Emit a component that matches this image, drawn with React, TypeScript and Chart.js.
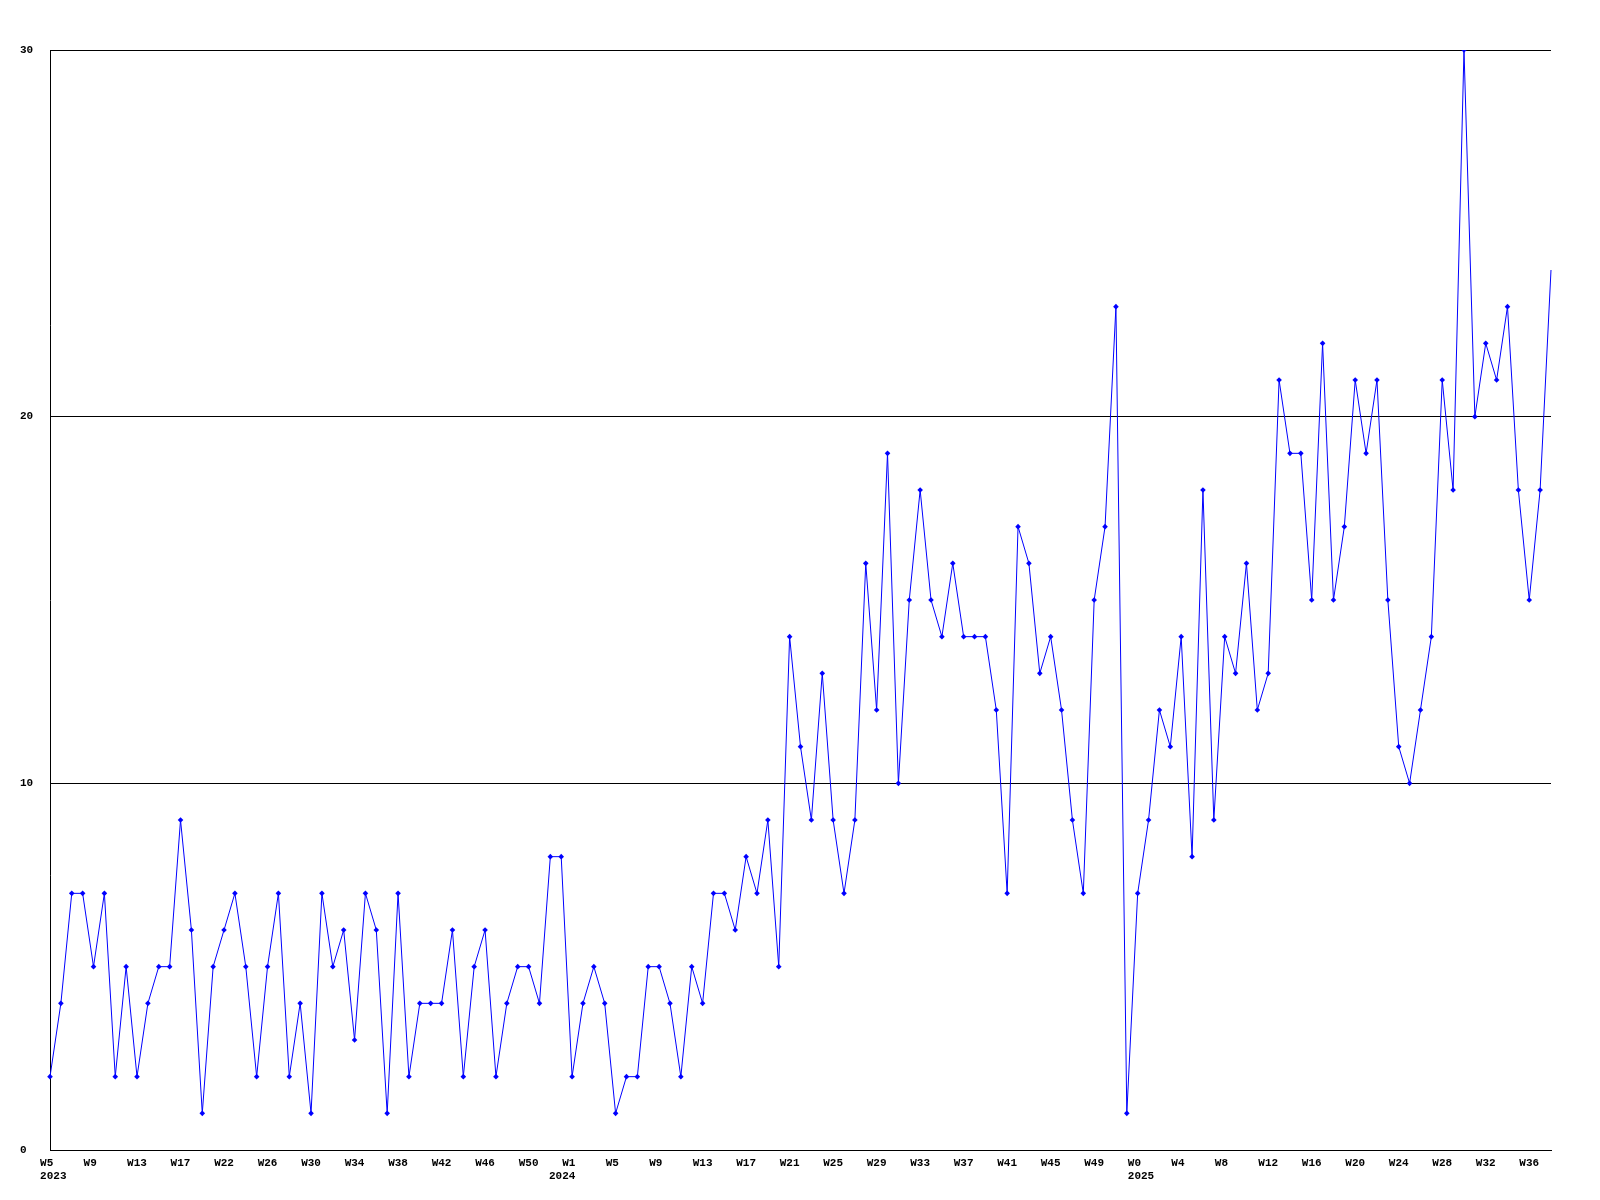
import React, { useEffect, useRef } from "react";
import { Chart, registerables } from "chart.js";

Chart.register(...registerables);

// Week numbers shown on the category axis (one per data point)
const weeks2023 = [
  5, 6, 7, 8, 9, 10, 11, 12, 13, 14, 15, 16, 17, 19, 20, 21, 22, 23, 24, 25, 26, 27, 28, 29,
  30, 31, 32, 33, 34, 35, 36, 37, 38, 39, 40, 41, 42, 43, 44, 45, 46, 47, 48, 49, 50, 51, 52, 53,
];
const weeks2024 = [
  1, 2, 3, 4, 5, 6, 7, 8, 9, 10, 11, 12, 13, 14, 15, 16, 17, 18, 19, 20, 21, 22, 23, 24, 25, 26,
  27, 28, 29, 30, 31, 32, 33, 34, 35, 36, 37, 38, 39, 40, 41, 42, 43, 44, 45, 46, 47, 48, 49, 50, 51, 52,
];
const weeks2025 = [
  0, 1, 2, 3, 4, 5, 6, 7, 8, 9, 10, 11, 12, 13, 14, 15, 16, 17, 18, 19, 20, 21, 22, 23, 24, 25,
  26, 27, 28, 29, 30, 31, 32, 33, 34, 35, 36, 37, 38,
];
const years = ["2023", "2024", "2025"];

// Weekly values
const values2023 = [
  2, 4, 7, 7, 5, 7, 2, 5, 2, 4, 5, 5, 9, 6, 1, 5, 6, 7, 5, 2, 5, 7, 2, 4,
  1, 7, 5, 6, 3, 7, 6, 1, 7, 2, 4, 4, 4, 6, 2, 5, 6, 2, 4, 5, 5, 4, 8, 8,
];
const values2024 = [
  2, 4, 5, 4, 1, 2, 2, 5, 5, 4, 2, 5, 4, 7, 7, 6, 8, 7, 9, 5, 14, 11, 9, 13, 9, 7,
  9, 16, 12, 19, 10, 15, 18, 15, 14, 16, 14, 14, 14, 12, 7, 17, 16, 13, 14, 12, 9, 7, 15, 17, 23, 1,
];
const values2025 = [
  7, 9, 12, 11, 14, 8, 18, 9, 14, 13, 16, 12, 13, 21, 19, 19, 15, 22, 15, 17, 21, 19, 21, 15, 11, 10,
  12, 14, 21, 18, 30, 20, 22, 21, 23, 18, 15, 18, 24,
];

const yTicks = [0, 10, 20, 30];

const FONT = {
  family: "'Liberation Mono', 'DejaVu Sans Mono', monospace",
  size: 11,
  weight: "bold" as const,
  lineHeight: "13px",
};

function padEnd(s: string, n: number) {
  let r = s;
  while (r.length < n) r += " ";
  return r;
}

export default function App() {
  const ref = useRef<HTMLCanvasElement | null>(null);

  useEffect(() => {
    document.body.style.margin = "0";
    const weekGroups = [weeks2023, weeks2024, weeks2025];
    const labels: string[] = [];
    const tickText: (string | string[])[] = [];
    weekGroups.forEach((g, gi) => {
      g.forEach((w, wi) => {
        const idx = labels.length;
        const name = "W" + w;
        labels.push(name);
        if (idx % 4 === 0) {
          const wk = padEnd(name, 3);
          if (wi === 0) {
            const yr = gi === 1 ? padEnd(years[gi], 7) : " " + years[gi];
            tickText.push([wk, yr]);
          } else {
            tickText.push(wk);
          }
        } else {
          tickText.push("");
        }
      });
    });
    const data = [...values2023, ...values2024, ...values2025];
    const radii = data.map((_, i) => (i === data.length - 1 ? 0 : 2.8));

    const chart = new Chart(ref.current as HTMLCanvasElement, {
      type: "line",
      data: {
        labels,
        datasets: [
          {
            data,
            borderColor: "#0000ff",
            backgroundColor: "#0000ff",
            borderWidth: 1,
            tension: 0,
            fill: false,
            pointStyle: "rectRot",
            pointRadius: radii,
            pointBorderWidth: 0,
            pointBackgroundColor: "#0000ff",
          },
        ],
      },
      options: {
        responsive: false,
        animation: false,
        events: [],
        layout: { padding: { left: 20, right: 49, top: 50, bottom: 0 } },
        plugins: { legend: { display: false }, tooltip: { enabled: false } },
        scales: {
          x: {
            type: "category",
            offset: false,
            grid: { display: false, drawTicks: false },
            border: { display: true, color: "#000000", width: 1 },
            ticks: {
              autoSkip: false,
              maxRotation: 0,
              minRotation: 0,
              padding: 7,
              color: "#000000",
              font: FONT,
              callback: (_v: any, i: number) => tickText[i],
            },
            afterFit: (s: any) => {
              s.height = 50;
            },
          },
          y: {
            min: yTicks[0],
            max: yTicks[yTicks.length - 1],
            afterBuildTicks: (s: any) => {
              s.ticks = yTicks.map((v) => ({ value: v }));
            },
            ticks: {
              crossAlign: "far",
              padding: 17,
              color: "#000000",
              font: FONT,
            },
            grid: { color: "#000000", lineWidth: 1, drawTicks: false },
            border: { display: true, color: "#000000", width: 1 },
            afterFit: (s: any) => {
              s.width = 30;
            },
          },
        },
      },
    });
    return () => chart.destroy();
  }, []);

  return (
    <div style={{ position: "absolute", left: 0, top: 0, width: 1600, height: 1200, background: "#ffffff" }}>
      <canvas ref={ref} width={1600} height={1200} style={{ display: "block", width: 1600, height: 1200 }} />
    </div>
  );
}
